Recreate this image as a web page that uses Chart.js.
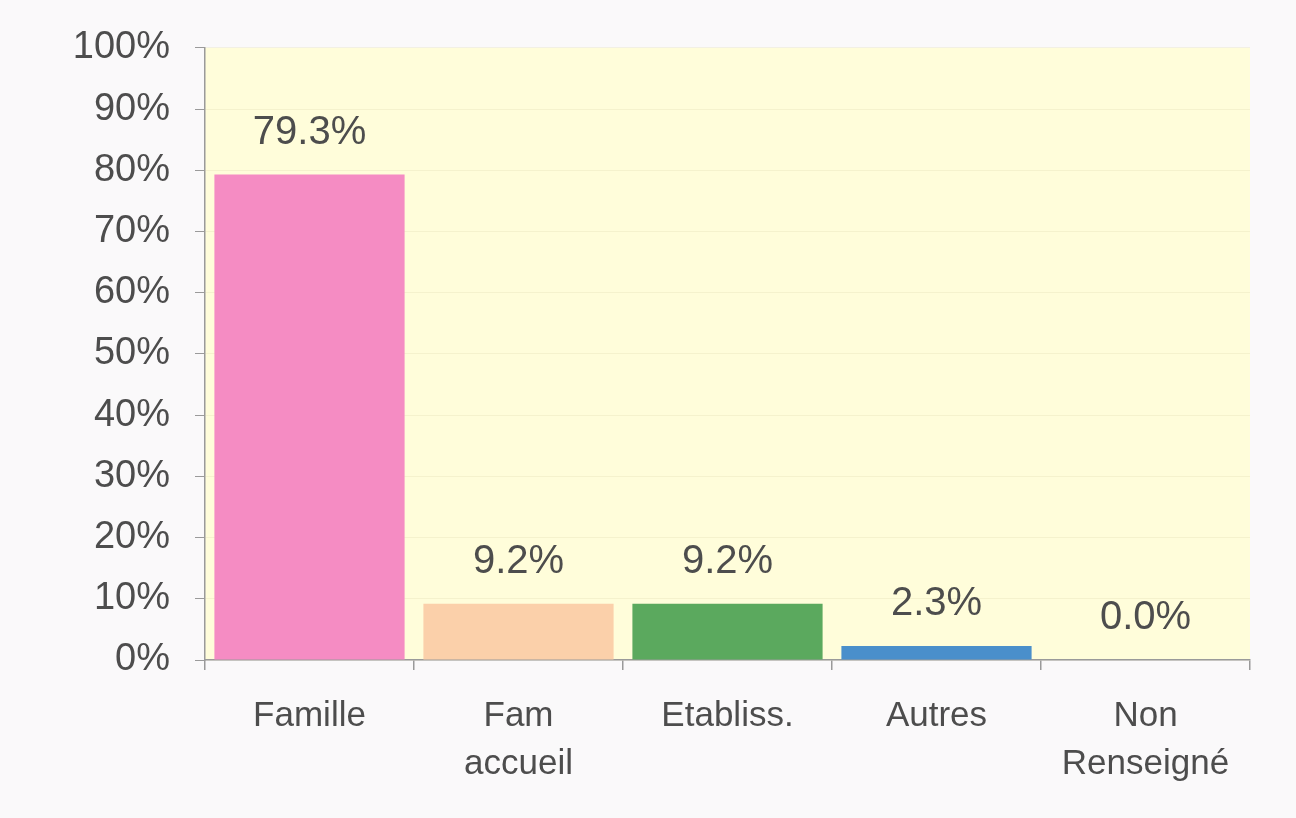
<!DOCTYPE html>
<html>
<head>
<meta charset="utf-8">
<script src="https://cdn.jsdelivr.net/npm/chart.js@4/dist/chart.umd.min.js"></script>
<style>
  html, body { margin: 0; padding: 0; background: #FAF9FA; }
  #wrap { width: 1296px; height: 818px; position: relative; }
</style>
</head>
<body>
<div id="wrap"><canvas id="c" width="1296" height="818"></canvas></div>
<script>
const categories = [["Famille"], ["Fam", "accueil"], ["Etabliss."], ["Autres"], ["Non", "Renseigné"]];
const values = [79.3, 9.2, 9.2, 2.3, 0.0];
const valueLabels = ["79.3%", "9.2%", "9.2%", "2.3%", "0.0%"];
const barColors = ["#F58CC3", "#FBD0AA", "#5BA95E", "#4A8FCB"," #A0A0A0"];
const yTicks = [0, 10, 20, 30, 40, 50, 60, 70, 80, 90, 100];

const textColor = "#4D4D4D";

const plotBg = {
  id: "plotBg",
  beforeDraw(chart) {
    const { ctx, chartArea: a } = chart;
    ctx.save();
    ctx.fillStyle = "#FFFDDA";
    ctx.fillRect(a.left, a.top, a.right - a.left, a.bottom - a.top);
    ctx.restore();
  }
};

const valueLabelPlugin = {
  id: "valueLabels",
  afterDatasetsDraw(chart) {
    const { ctx } = chart;
    const meta = chart.getDatasetMeta(0);
    ctx.save();
    ctx.font = "40px 'Liberation Sans', Arial, sans-serif";
    ctx.fillStyle = textColor;
    ctx.textAlign = "center";
    ctx.textBaseline = "alphabetic";
    meta.data.forEach((bar, i) => {
      ctx.fillText(valueLabels[i], bar.x, bar.y - 31);
    });
    ctx.restore();
  }
};

new Chart(document.getElementById("c"), {
  type: "bar",
  data: {
    labels: categories,
    datasets: [{
      data: values,
      backgroundColor: barColors,
      borderWidth: 0,
      barPercentage: 0.91,
      categoryPercentage: 1.0
    }]
  },
  options: {
    responsive: false,
    animation: false,
    layout: { padding: { left: 0, top: 45, right: 46, bottom: 0 } },
    plugins: { legend: { display: false }, tooltip: { enabled: false } },
    scales: {
      x: {
        grid: { display: true, drawOnChartArea: false, offset: true, color: "#9A9A9A", tickLength: 10, lineWidth: 1.5 },
        border: { display: true, color: "#9A9A9A", width: 1.5 },
        ticks: {
          color: textColor,
          padding: 22,
          font: { family: "'Liberation Sans', Arial, sans-serif", size: 35, lineHeight: 1.37 },
          maxRotation: 0, autoSkip: false
        },
        afterFit(scale) { scale.height = 158; }
      },
      y: {
        min: 0, max: 100,
        afterBuildTicks(scale) { scale.ticks = yTicks.map(v => ({ value: v })); },
        grid: { color: "rgba(200,195,150,0.18)", tickLength: 10, lineWidth: 1,
                tickColor: "#9A9A9A" },
        border: { display: true, color: "#9A9A9A", width: 1.5 },
        ticks: {
          color: textColor,
          padding: 25,
          font: { family: "'Liberation Sans', Arial, sans-serif", size: 38 },
          callback: v => v + "%"
        },
        afterFit(scale) { scale.width = 205; }
      }
    }
  },
  plugins: [plotBg, valueLabelPlugin]
});
</script>
</body>
</html>
